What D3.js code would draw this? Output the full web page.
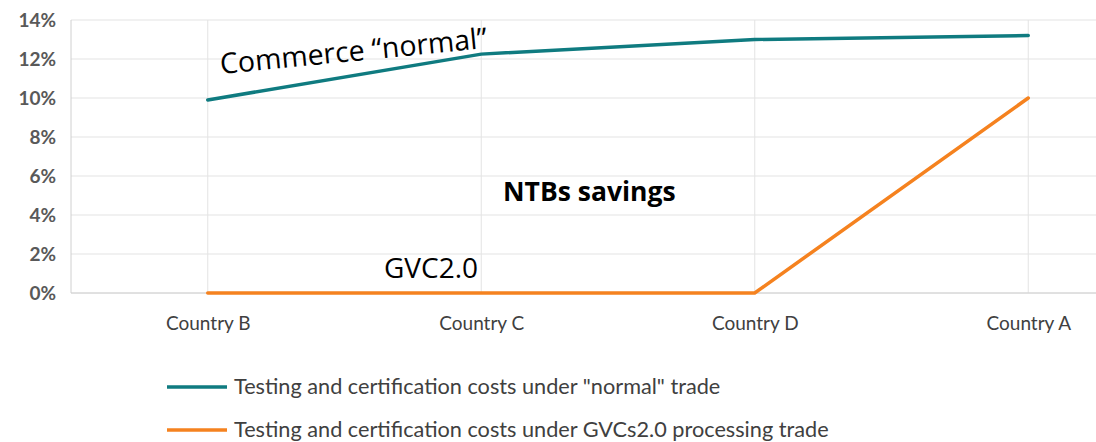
<!DOCTYPE html>
<html>
<head>
<meta charset="utf-8">
<script src="https://cdn.jsdelivr.net/npm/d3@7"></script>
<style>
  body { margin: 0; background: #fff; }
  svg { display: block; }
  text { font-family: Lato, "Open Sans", sans-serif; }
</style>
</head>
<body>
<svg width="1096" height="442"></svg>
<script>
var categories = ["Country B", "Country C", "Country D", "Country A"]
var normalTrade = [0.099, 0.1225, 0.130, 0.132]
var gvcTrade = [0, 0, 0, 0.10]
var yTicks = [0, 0.02, 0.04, 0.06, 0.08, 0.10, 0.12, 0.14]
var seriesNames = ['Testing and certification costs under "normal" trade',
                   "Testing and certification costs under GVCs2.0 processing trade"]
var colors = ["#0f7b80", "#f5821f"]

var svg = d3.select("svg")
var plotLeft = 71, plotTop = 20, plotBottom = 293

var x = d3.scalePoint().domain(categories).range([plotLeft, 1165]).padding(0.5)
var y = d3.scaleLinear().domain([0, 0.14]).range([plotBottom, plotTop])

// grid
svg.append("g").selectAll("line")
    .data(yTicks).enter().append("line")
    .attr("x1", plotLeft).attr("x2", 1096)
    .attr("y1", function(d){ return y(d) }).attr("y2", function(d){ return y(d) })
    .attr("stroke", "#e3e3e3").attr("stroke-width", 1)
svg.append("g").selectAll("line")
    .data(categories).enter().append("line")
    .attr("x1", function(d){ return x(d) }).attr("x2", function(d){ return x(d) })
    .attr("y1", plotTop).attr("y2", plotBottom)
    .attr("stroke", "#e3e3e3").attr("stroke-width", 1)
// axes lines
svg.append("line").attr("x1", plotLeft).attr("x2", plotLeft).attr("y1", plotTop).attr("y2", plotBottom)
    .attr("stroke", "#d0d0d0")
svg.append("line").attr("x1", plotLeft).attr("x2", 1096).attr("y1", plotBottom).attr("y2", plotBottom)
    .attr("stroke", "#d0d0d0")

// y labels
var yAxis = svg.append("g").attr("transform", "translate(" + plotLeft + ",0)")
    .call(d3.axisLeft(y).tickValues(yTicks).tickSize(0).tickPadding(15)
        .tickFormat(function(d){ return Math.round(d * 100) + "%" }))
yAxis.select(".domain").remove()
yAxis.selectAll("text")
    .attr("font-size", 19).attr("font-weight", "bold").attr("fill", "#595959")
    .style("font-family", "Lato, sans-serif")

// x labels
var xAxis = svg.append("g").attr("transform", "translate(0," + plotBottom + ")")
    .call(d3.axisBottom(x).tickSize(0).tickPadding(24))
xAxis.select(".domain").remove()
xAxis.selectAll("text")
    .attr("font-size", 19).attr("fill", "#404040")
    .style("font-family", "Lato, sans-serif")

// lines
var line = d3.line()
    .x(function(d, i){ return x(categories[i]) })
    .y(function(d){ return y(d) })
svg.append("path").datum(normalTrade)
    .attr("d", line).attr("fill", "none")
    .attr("stroke", colors[0]).attr("stroke-width", 3.5).attr("stroke-linecap", "round")
svg.append("path").datum(gvcTrade)
    .attr("d", line).attr("fill", "none")
    .attr("stroke", colors[1]).attr("stroke-width", 3.5).attr("stroke-linecap", "round")

// annotations
svg.append("text").text("Commerce \u201cnormal\u201d")
    .attr("transform", "translate(221,74) rotate(-5.6)")
    .attr("font-size", 28.5).attr("fill", "#000")
    .style("font-family", "'Open Sans', sans-serif")
svg.append("text").text("NTBs savings")
    .attr("x", 503).attr("y", 201)
    .attr("font-size", 26.5).attr("font-weight", "bold").attr("fill", "#000")
    .style("font-family", "'Open Sans', sans-serif")
svg.append("text").text("GVC2.0")
    .attr("x", 384).attr("y", 278)
    .attr("font-size", 28).attr("fill", "#000")
    .style("font-family", "'Open Sans', sans-serif")

// legend
var leg = svg.append("g").selectAll("g")
    .data(seriesNames).enter().append("g")
    .attr("transform", function(d, i){ return "translate(167," + (387 + i * 43) + ")" })
leg.append("line").attr("x1", 0).attr("x2", 60).attr("y1", 0).attr("y2", 0)
    .attr("stroke", function(d, i){ return colors[i] }).attr("stroke-width", 3.5)
leg.append("text").text(function(d){ return d })
    .attr("x", 67).attr("y", 7)
    .attr("font-size", 21.7).attr("fill", "#404040")
</script>
</body>
</html>
